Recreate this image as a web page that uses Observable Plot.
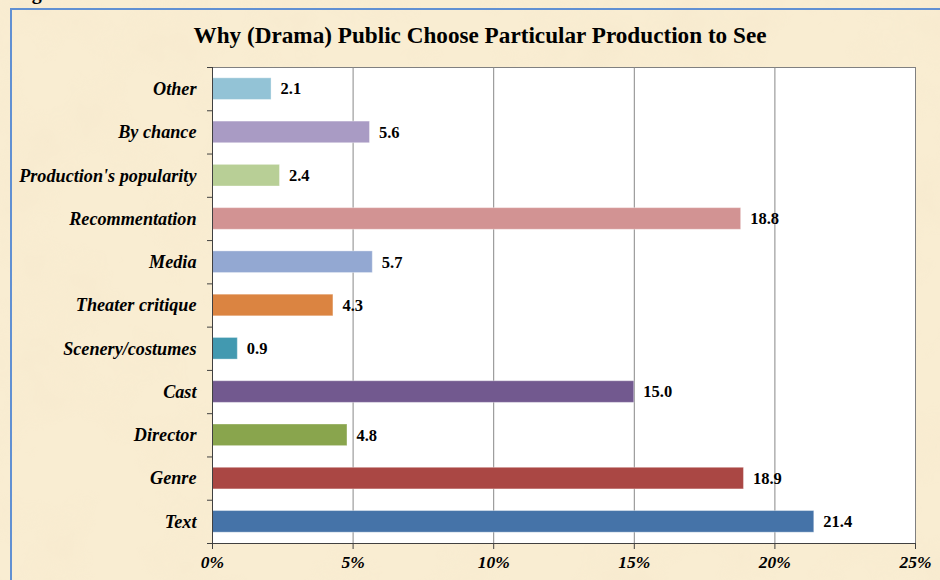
<!DOCTYPE html>
<html><head><meta charset="utf-8">
<script src="https://cdn.jsdelivr.net/npm/d3@7"></script>
<script src="https://cdn.jsdelivr.net/npm/@observablehq/plot@0.6"></script>
<style>
body{margin:0;}
#wrap{position:relative;width:940px;height:580px;overflow:hidden;background:#f9edd2;font-family:"Liberation Serif","Times New Roman",serif;}
#tex{position:absolute;left:0;top:0;}
#frame{position:absolute;left:10px;top:8px;width:980px;height:620px;border:2px solid #6190d2;box-sizing:border-box;}
#title{position:absolute;left:10px;width:940px;top:21px;line-height:28px;text-align:center;font-weight:bold;font-size:23.2px;color:#000;}
#fig{position:absolute;left:14px;top:-19px;font-weight:bold;font-size:20px;color:#000;}
#chart{position:absolute;left:0;top:48px;}
</style></head>
<body>
<div id="wrap">
<svg id="tex" width="940" height="580">
  <filter id="noise" x="0" y="0" width="100%" height="100%">
    <feTurbulence type="fractalNoise" baseFrequency="0.012" numOctaves="4" seed="7"/>
    <feColorMatrix type="matrix" values="0 0 0 0 0.90  0 0 0 0 0.78  0 0 0 0 0.58  1.4 0 0 0 -0.62"/>
  </filter>
  <rect width="940" height="580" filter="url(#noise)" opacity="0.5"/>
</svg>
<div id="fig">Figure 3</div>
<div id="frame"></div>
<div id="title">Why (Drama) Public Choose Particular Production to See</div>
<div id="chart"></div>
</div>
<script>
const categories = ["Other","By chance","Production's popularity","Recommentation","Media","Theater critique","Scenery/costumes","Cast","Director","Genre","Text"];
const values = [2.1,5.6,2.4,18.8,5.7,4.3,0.9,15.0,4.8,18.9,21.4];
const colors = ["#93c3d6","#a99bc4","#b8cf96","#d29393","#93a8d2","#db8441","#4299b0","#72598f","#89a54d","#aa4744","#4573a8"];
const xTicks = [0,5,10,15,20,25];
const gridTicks = [5,10,15,20];

const data = categories.map((c,i)=>({c, i, v: values[i], color: colors[i]}));
const boundaries = d3.range(categories.length + 1);
const n = categories.length;

const chart = Plot.plot({
  width: 940, height: 532,
  marginTop: 19, marginBottom: 37, marginLeft: 212, marginRight: 25,
  style: {background: "transparent", fontFamily: "'Liberation Serif','Times New Roman',serif", overflow: "visible", color: "#000"},
  x: {domain: [0, 25]},
  y: {domain: [0, n], reverse: true},
  marks: [
    Plot.frame({fill: "white", stroke: "#808080"}),
    Plot.ruleX(gridTicks, {stroke: "#888", strokeWidth: 1}),
    Plot.rectX(data, {x1: 0, x2: "v", y1: d => d.i + 0.25, y2: d => d.i + 0.75, fill: d => d.color, stroke: "white", strokeOpacity: 0.35, strokeWidth: 1, inset: 0}),
    Plot.text(data, {x: "v", y: d => d.i + 0.5, text: d => d.v.toFixed(1), textAnchor: "start", dx: 9, fontWeight: "bold", fontSize: 16.5, fill: "#000"}),
    Plot.ruleX([0], {stroke: "#404040"}),
    Plot.ruleY([n], {stroke: "#404040"}),
    Plot.axisX({ticks: xTicks, tickFormat: d => d + "%", tickSize: 6, tickPadding: 6, fontSize: 17.5, fontWeight: "bold", fontStyle: "italic", stroke: "#404040", fill: "#000", label: null}),
    Plot.axisY({ticks: categories.map((c,i) => i + 0.5), tickFormat: d => categories[Math.floor(d)], tickSize: 0, tickPadding: 16, fontSize: 18.2, fontWeight: "bold", fontStyle: "italic", fill: "#000", label: null}),
    Plot.axisY({ticks: boundaries, tickFormat: () => "", tickSize: 5, stroke: "#404040", label: null})
  ]
});
document.getElementById("chart").appendChild(chart);
</script>
</body></html>
